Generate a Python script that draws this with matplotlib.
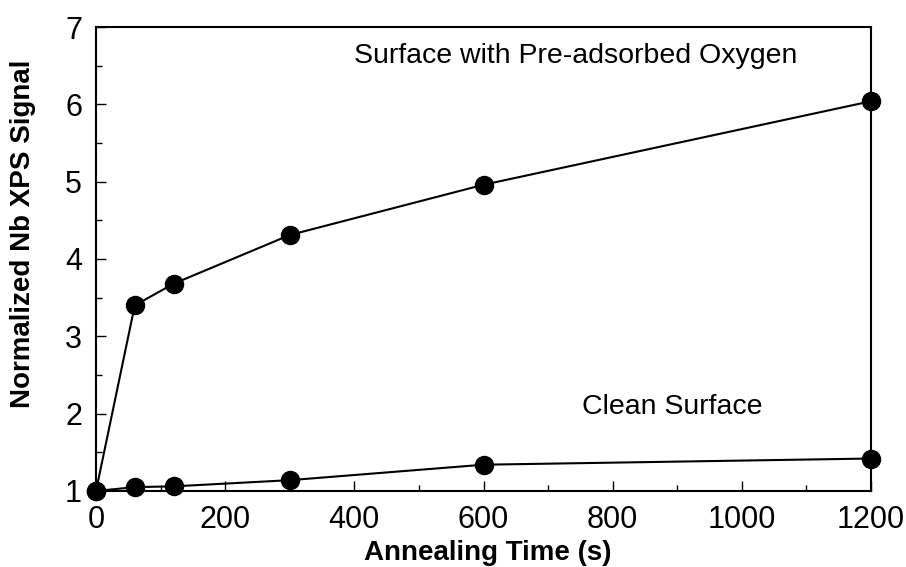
import numpy as np
import matplotlib.pyplot as plt
from matplotlib.ticker import MultipleLocator

plt.rcParams["font.family"] = ["Liberation Sans", "DejaVu Sans"]

# annealing times (s)
time_s = [0, 60, 120, 300, 600, 1200]
# normalized Nb XPS signal
oxygen_signal = [1.0, 3.40, 3.68, 4.31, 4.96, 6.04]
clean_signal = [1.0, 1.05, 1.06, 1.14, 1.34, 1.42]

fig = plt.figure(figsize=(9.06, 5.67), dpi=100)
ax = fig.add_axes([96 / 906, 1 - 491 / 567, 775 / 906, 464 / 567])

for y in (oxygen_signal, clean_signal):
    ax.plot(time_s, y, color="black", linewidth=1.5, marker="o",
            markersize=13, markerfacecolor="black", clip_on=False, zorder=5)

ax.text(743, 6.63, "Surface with Pre-adsorbed Oxygen", fontsize=20.5,
        ha="center", va="center")
ax.text(893, 2.08, "Clean Surface", fontsize=20.5, ha="center", va="center")

ax.set_xlim(0, 1200)
ax.set_ylim(1, 7)
ax.xaxis.set_major_locator(MultipleLocator(200))
ax.xaxis.set_minor_locator(MultipleLocator(100))
ax.yaxis.set_major_locator(MultipleLocator(1))
ax.yaxis.set_minor_locator(MultipleLocator(0.5))
ax.tick_params(which="both", direction="in", top=False, right=False,
               labelsize=22, width=1.0)
ax.tick_params(axis="x", pad=10)
ax.tick_params(axis="y", pad=10)
ax.tick_params(which="major", length=7)
ax.tick_params(which="minor", length=4)
for sp in ax.spines.values():
    sp.set_linewidth(1.5)

ax.set_xlabel("Annealing Time (s)", fontsize=20, fontweight="bold")
ax.set_ylabel("Normalized Nb XPS Signal", fontsize=20, fontweight="bold")
# label centres placed in pixel terms relative to the axes box
ax.xaxis.set_label_coords((488 - 96) / 775, -(553 - 491) / 464)
ax.yaxis.set_label_coords(-(96 - 23) / 775, (491 - 234) / 464)
ax.xaxis.label.set_va("center")
ax.yaxis.label.set_va("center")

fig.savefig("out.png", dpi=100)
